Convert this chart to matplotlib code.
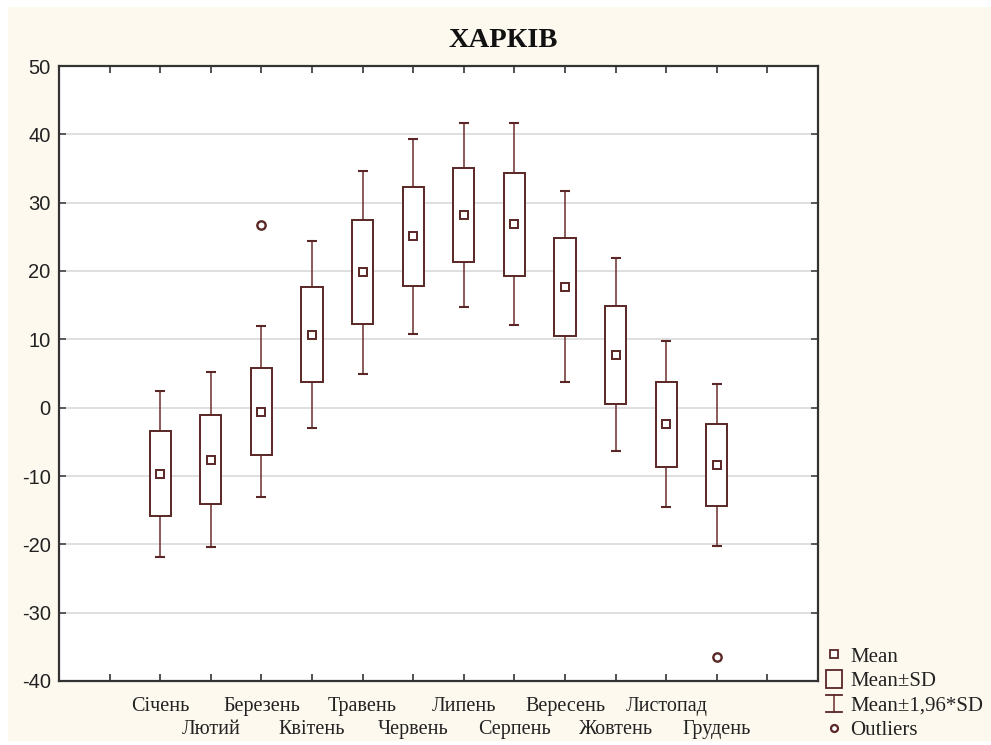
import matplotlib
matplotlib.use("Agg")
import matplotlib.pyplot as plt
import numpy as np
from matplotlib.lines import Line2D
from matplotlib.patches import Rectangle
from matplotlib.legend_handler import HandlerBase

months = ["Січень", "Лютий", "Березень", "Квітень", "Травень", "Червень",
          "Липень", "Серпень", "Вересень", "Жовтень", "Листопад", "Грудень"]
means = [-9.65, -7.6, -0.6, 10.7, 19.8, 25.05, 28.2, 26.85, 17.7, 7.75, -2.45, -8.4]
sds = [6.2, 6.55, 6.4, 7.0, 7.6, 7.3, 6.85, 7.55, 7.15, 7.2, 6.2, 6.05]
outlier_month = ["Березень", "Грудень"]
outlier_value = [26.8, -36.5]
title = "ХАРКІВ"
yticks = [-40, -30, -20, -10, 0, 10, 20, 30, 40, 50]
legend_labels = ["Mean", "Mean±SD", "Mean±1,96*SD", "Outliers"]

C = "#5a2626"
CW = "#6a2e2e"
CREAM = "#fdf9ef"
W, H = 991, 745

fig = plt.figure(figsize=(W / 100, H / 100), dpi=100, facecolor="white")
fig.patches.append(Rectangle((8 / W, 4 / H), 1 - 8 / W, 1 - 11 / H,
                             transform=fig.transFigure, facecolor=CREAM,
                             edgecolor="none", zorder=-10))
ax = fig.add_axes([59 / W, (H - 681) / H, (818 - 59) / W, (681 - 66) / H])
ax.set_facecolor("white")

x = np.arange(1, len(months) + 1)
m = np.array(means)
s = np.array(sds)
k = 1.96
bw = 0.42
cw = 0.2

ax.bar(x, 2 * s, bottom=m - s, width=bw, facecolor="white", edgecolor=C,
       linewidth=1.4, zorder=3)
ax.vlines(x, m + s, m + k * s, color=CW, lw=1.1, zorder=2)
ax.vlines(x, m - k * s, m - s, color=CW, lw=1.1, zorder=2)
ax.hlines(m + k * s, x - cw / 2, x + cw / 2, color=C, lw=1.5, zorder=2)
ax.hlines(m - k * s, x - cw / 2, x + cw / 2, color=C, lw=1.5, zorder=2)
ax.plot(x, m, ls="none", marker="s", ms=6.3, mfc="white", mec=C, mew=1.4, zorder=4)
ox = [months.index(mm) + 1 for mm in outlier_month]
ax.plot(ox, outlier_value, ls="none", marker="o", ms=6, mfc="white", mec=C,
        mew=1.7, zorder=4)

ax.set_xlim(-1, 14)
ax.set_ylim(-40, 50)
ax.set_yticks(yticks)
ax.set_yticklabels([str(v) for v in yticks], fontfamily="Liberation Sans",
                   fontsize=14.5, color="#222222")
ax.grid(axis="y", color="#d6d6d6", lw=1.1, zorder=0)
ax.set_axisbelow(True)
ax.set_xticks(np.arange(0, 14))
ax.set_xticklabels([])
ax.tick_params(axis="x", which="both", direction="in", length=5, width=1.2,
               top=True, bottom=True, color="#333333")
ax.tick_params(axis="y", which="both", direction="in", length=5, width=1.2,
               left=True, right=True, color="#444444", pad=6)
for sp in ax.spines.values():
    sp.set_color("#333333")
    sp.set_linewidth(1.6)

for i, name in enumerate(months):
    row = 0 if i % 2 == 0 else 1
    ax.annotate(name, xy=(x[i], 0), xycoords=("data", "axes fraction"),
                xytext=(0, -30 - 23 * row), textcoords="offset pixels",
                ha="center", va="baseline", fontfamily="Liberation Serif",
                fontsize=14.5, color="#222222")

fig.text((449 + 558) / 2 / W, 1 - 47 / H, title, ha="center", va="baseline",
         fontfamily="Liberation Serif", fontweight="bold", fontsize=20.5,
         color="#111111")


class BoxHandler(HandlerBase):
    def create_artists(self, legend, orig_handle, xdescent, ydescent, width,
                       height, fontsize, trans):
        cx = width / 2 - xdescent
        cy = height / 2 - ydescent
        w, h = 12.0, 13.5
        r = Rectangle((cx - w / 2, cy - h / 2), w, h, facecolor="none",
                      edgecolor=C, lw=1.3, transform=trans)
        return [r]


class IBeamHandler(HandlerBase):
    def create_artists(self, legend, orig_handle, xdescent, ydescent, width,
                       height, fontsize, trans):
        cx = width / 2 - xdescent
        cy = height / 2 - ydescent
        hw, hh = 5.8, 6.2
        arts = [
            Line2D([cx, cx], [cy - hh, cy + hh], color=CW, lw=1.1, transform=trans),
            Line2D([cx - hw, cx + hw], [cy + hh, cy + hh], color=C, lw=1.3, transform=trans),
            Line2D([cx - hw, cx + hw], [cy - hh, cy - hh], color=C, lw=1.3, transform=trans),
        ]
        return arts


h_mean = Line2D([], [], ls="none", marker="s", ms=5.5, mfc="white", mec=C, mew=1.3)
h_box = Rectangle((0, 0), 1, 1)
h_ibeam = Line2D([], [])
h_out = Line2D([], [], ls="none", marker="o", ms=5, mfc="white", mec=C, mew=1.6)
leg = fig.legend([h_mean, h_box, h_ibeam, h_out], legend_labels, loc="upper left",
                 bbox_to_anchor=(824 / W, 1 - 647 / H), frameon=False,
                 prop={"family": "Liberation Serif", "size": 15},
                 handlelength=0.95, handletextpad=0.3, labelspacing=0.24,
                 borderpad=0.0, borderaxespad=0,
                 handler_map={h_box: BoxHandler(), h_ibeam: IBeamHandler()})
for t in leg.get_texts():
    t.set_color("#222222")

fig.savefig("out.png", dpi=100, facecolor=fig.get_facecolor())
